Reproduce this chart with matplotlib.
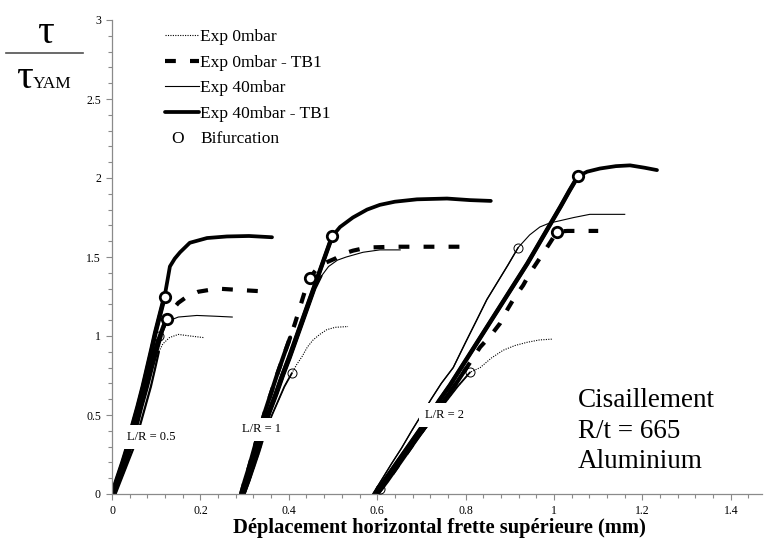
import matplotlib
matplotlib.use("Agg")
import matplotlib.pyplot as plt
from matplotlib.lines import Line2D
from matplotlib.ticker import MultipleLocator

plt.rcParams["font.family"] = ["Liberation Serif", "DejaVu Serif"]

# ---------------- data: tau / tau_YAM versus displacement (mm) ----------------
# L/R = 0.5
g1_40tb1_x = [0.000, 0.012, 0.024, 0.035, 0.046, 0.058, 0.070, 0.080, 0.090, 0.098, 0.108,
              0.119, 0.126, 0.131, 0.142, 0.154, 0.176, 0.215, 0.260, 0.310, 0.362]
g1_40tb1_y = [0.00, 0.10, 0.20, 0.30, 0.43, 0.55, 0.68, 0.80, 0.92, 1.02, 1.13,
              1.25, 1.36, 1.44, 1.49, 1.53, 1.59, 1.62, 1.63, 1.633, 1.625]
g1_0tb1_x = [0.004, 0.016, 0.030, 0.041, 0.052, 0.064, 0.076, 0.087, 0.097, 0.106, 0.115,
             0.124, 0.135, 0.150, 0.170, 0.195, 0.238, 0.296, 0.357]
g1_0tb1_y = [0.00, 0.10, 0.20, 0.30, 0.42, 0.55, 0.68, 0.80, 0.90, 0.98, 1.05,
             1.11, 1.16, 1.21, 1.25, 1.28, 1.30, 1.29, 1.28]
g1_40_x = [0.006, 0.018, 0.032, 0.044, 0.056, 0.068, 0.080, 0.092, 0.102, 0.112, 0.122,
           0.132, 0.150, 0.192, 0.235, 0.272]
g1_40_y = [0.00, 0.10, 0.20, 0.30, 0.42, 0.55, 0.67, 0.80, 0.90, 1.00, 1.07,
           1.10, 1.12, 1.13, 1.125, 1.12]
g1_0_x = [0.008, 0.022, 0.036, 0.050, 0.062, 0.075, 0.088, 0.098, 0.106, 0.115, 0.130,
          0.150, 0.177, 0.207]
g1_0_y = [0.00, 0.10, 0.20, 0.30, 0.42, 0.55, 0.68, 0.80, 0.90, 0.95, 0.99,
          1.01, 1.00, 0.99]

# L/R = 1
g2_40tb1_x = [0.296, 0.306, 0.316, 0.327, 0.341, 0.355, 0.370, 0.385, 0.400, 0.414, 0.428,
              0.442, 0.456, 0.470, 0.484, 0.498, 0.516, 0.545, 0.577, 0.606, 0.640, 0.690,
              0.758, 0.810, 0.857]
g2_40tb1_y = [0.00, 0.08, 0.17, 0.27, 0.40, 0.52, 0.63, 0.75, 0.86, 0.97, 1.08,
              1.19, 1.30, 1.41, 1.52, 1.63, 1.69, 1.75, 1.80, 1.83, 1.85, 1.865,
              1.87, 1.86, 1.855]
g2_0tb1_x = [0.292, 0.300, 0.310, 0.320, 0.333, 0.346, 0.360, 0.374, 0.389, 0.403, 0.414,
             0.425, 0.436, 0.448, 0.462, 0.480, 0.505, 0.523, 0.545, 0.577, 0.640, 0.720, 0.800]
g2_0tb1_y = [0.00, 0.08, 0.17, 0.27, 0.40, 0.52, 0.64, 0.76, 0.88, 0.99, 1.08,
             1.18, 1.28, 1.37, 1.42, 1.46, 1.49, 1.52, 1.54, 1.56, 1.565, 1.565, 1.565]
g2_40_x = [0.300, 0.310, 0.320, 0.331, 0.345, 0.359, 0.374, 0.389, 0.404, 0.418, 0.432,
           0.446, 0.460, 0.474, 0.490, 0.510, 0.530, 0.568, 0.606, 0.652]
g2_40_y = [0.00, 0.08, 0.17, 0.27, 0.40, 0.52, 0.63, 0.75, 0.86, 0.97, 1.08,
           1.19, 1.30, 1.38, 1.44, 1.48, 1.50, 1.53, 1.545, 1.545]
g2_0_x = [0.300, 0.311, 0.322, 0.334, 0.348, 0.362, 0.376, 0.390, 0.407, 0.418, 0.430,
          0.442, 0.455, 0.470, 0.486, 0.505, 0.534]
g2_0_y = [0.00, 0.08, 0.17, 0.27, 0.40, 0.50, 0.59, 0.68, 0.765, 0.82, 0.87,
          0.93, 0.975, 1.01, 1.04, 1.055, 1.06]

# L/R = 2
g3_40tb1_x = [0.595, 0.615, 0.640, 0.665, 0.690, 0.715, 0.740, 0.765, 0.790, 0.815, 0.840,
              0.865, 0.890, 0.915, 0.940, 0.965, 0.990, 1.015, 1.035, 1.054, 1.075, 1.104,
              1.140, 1.172, 1.205, 1.233]
g3_40tb1_y = [0.00, 0.08, 0.18, 0.28, 0.38, 0.48, 0.59, 0.69, 0.80, 0.91, 1.02,
              1.13, 1.24, 1.35, 1.46, 1.58, 1.70, 1.82, 1.92, 2.01, 2.04, 2.06,
              2.075, 2.08, 2.065, 2.05]
g3_0tb1_x = [0.600, 0.622, 0.647, 0.672, 0.697, 0.722, 0.748, 0.774, 0.800, 0.833, 0.856,
             0.878, 0.895, 0.912, 0.930, 0.946, 0.965, 0.984, 1.007, 1.030, 1.060, 1.088, 1.100]
g3_0tb1_y = [0.00, 0.08, 0.18, 0.28, 0.38, 0.48, 0.58, 0.68, 0.79, 0.93, 1.00,
             1.08, 1.17, 1.25, 1.32, 1.40, 1.48, 1.56, 1.66, 1.665, 1.665, 1.665, 1.665]
g3_40_x = [0.590, 0.610, 0.632, 0.655, 0.678, 0.700, 0.722, 0.745, 0.772, 0.800, 0.825,
           0.848, 0.872, 0.896, 0.919, 0.945, 0.968, 0.990, 1.014, 1.045, 1.081, 1.120, 1.160]
g3_40_y = [0.00, 0.09, 0.19, 0.29, 0.40, 0.50, 0.60, 0.70, 0.80, 0.96, 1.10,
           1.23, 1.34, 1.45, 1.56, 1.64, 1.69, 1.715, 1.73, 1.75, 1.77, 1.77, 1.77]
g3_0_x = [0.592, 0.614, 0.637, 0.660, 0.684, 0.708, 0.732, 0.757, 0.782, 0.810, 0.833,
          0.858, 0.885, 0.912, 0.939, 0.967, 0.995]
g3_0_y = [0.00, 0.07, 0.15, 0.23, 0.32, 0.41, 0.50, 0.59, 0.68, 0.77, 0.80,
          0.86, 0.91, 0.94, 0.96, 0.975, 0.98]

# bifurcation points (TB1 tests / plain tests)
bif_tb1_x = [0.119, 0.124, 0.498, 0.448, 1.054, 1.007]
bif_tb1_y = [1.25, 1.11, 1.63, 1.37, 2.01, 1.66]
bif_plain_x = [0.107, 0.407, 0.919, 0.810, 0.607]
bif_plain_y = [1.00, 0.765, 1.56, 0.77, 0.03]

legend_labels = ["Exp 0mbar", "Exp 0mbar - TB1", "Exp 40mbar", "Exp 40mbar - TB1"]
group_labels = ["L/R = 0.5", "L/R = 1", "L/R = 2"]
group_label_x = [0.088, 0.339, 0.752]
group_label_y = [0.36, 0.41, 0.50]

x_ticks = [0, 0.2, 0.4, 0.6, 0.8, 1.0, 1.2, 1.4]
x_tick_labels = ["0", "0.2", "0.4", "0.6", "0.8", "1", "1.2", "1.4"]
y_ticks = [0, 0.5, 1.0, 1.5, 2.0, 2.5, 3.0]
y_tick_labels = ["0", "0.5", "1", "1.5", "2", "2.5", "3"]

# ---------------- styles ----------------
style_0 = dict(color="black", lw=0.8, ls=(0, (1, 1.2)))
style_0tb1 = dict(color="black", lw=3.0, ls=(0, (2.6, 3.4)), dash_capstyle="butt")
style_40 = dict(color="black", lw=0.8, ls="-")
style_40tb1 = dict(color="black", lw=2.7, ls="-", solid_capstyle="round")

W, H = 765, 545
fig = plt.figure(figsize=(W / 100, H / 100), dpi=100)
ax = fig.add_axes([112 / W, 51 / H, 650 / W, 474 / H])


def fx(px):
    return px / W


def fy(py):
    return 1 - py / H


# (x, y, style, width of the dense loading branch, points in the loading branch)
series = [
    (g1_0_x, g1_0_y, style_0, 1.6, 9), (g2_0_x, g2_0_y, style_0, 1.3, 9),
    (g3_0_x, g3_0_y, style_0, 1.3, 10),
    (g1_40_x, g1_40_y, style_40, 1.8, 10), (g2_40_x, g2_40_y, style_40, 1.6, 14),
    (g3_40_x, g3_40_y, style_40, 1.0, 15),
    (g1_0tb1_x, g1_0tb1_y, style_0tb1, 3.2, 12), (g2_0tb1_x, g2_0tb1_y, style_0tb1, 3.0, 10),
    (g3_0tb1_x, g3_0tb1_y, style_0tb1, 3.0, 9),
    (g1_40tb1_x, g1_40tb1_y, style_40tb1, 3.4, 12), (g2_40tb1_x, g2_40tb1_y, style_40tb1, 3.2, 16),
    (g3_40tb1_x, g3_40tb1_y, style_40tb1, 3.2, 20),
]
for xs, ys, st, wload, nload in series:
    ax.plot(xs, ys, zorder=2, **st)
    # dense experimental loading branch reads as a solid band
    ax.plot(xs[:nload], ys[:nload], color="black", lw=wload, ls="-",
            solid_capstyle="round", zorder=2)

ax.plot(bif_tb1_x, bif_tb1_y, ls="none", marker="o", ms=7.5, mfc="white", mec="black",
        mew=2.0, zorder=4)
ax.plot(bif_plain_x, bif_plain_y, ls="none", marker="o", ms=6.5, mfc="none", mec="black",
        mew=0.7, zorder=4)

for lab, lx, ly in zip(group_labels, group_label_x, group_label_y):
    ax.text(lx, ly, lab, fontsize=9, ha="center", va="center", zorder=6,
            bbox=dict(boxstyle="square,pad=0.45", fc="white", ec="none"))

ax.set_xlim(0, 650 / 442)
ax.set_ylim(0, 3)
ax.set_xticks(x_ticks)
ax.set_xticklabels(x_tick_labels)
ax.set_yticks(y_ticks)
ax.set_yticklabels(y_tick_labels)
ax.xaxis.set_minor_locator(MultipleLocator(0.04))
ax.yaxis.set_minor_locator(MultipleLocator(0.1))
for s in ("top", "right"):
    ax.spines[s].set_visible(False)
for s in ("left", "bottom"):
    ax.spines[s].set_color("#8a8a8a")
    ax.spines[s].set_linewidth(0.9)
ax.tick_params(which="both", direction="out", color="#8a8a8a", width=0.8)
ax.tick_params(which="major", length=4, labelsize=8.5, pad=4)
ax.tick_params(which="minor", length=3)

ax.set_xlabel("Déplacement horizontal frette supérieure (mm)", fontsize=14.8,
              fontweight="bold")
ax.xaxis.set_label_coords(0.503, -(518 - 494) / 474)

# y-axis label drawn as a fraction
fig.text(fx(45), fy(43), "τ", fontsize=30, ha="center", va="baseline")
fig.add_artist(Line2D([fx(6), fx(83)], [fy(53), fy(53)], color="#505050", lw=1.2))
fig.text(fx(33), fy(88), "τ", fontsize=30, ha="right", va="baseline")
fig.text(fx(33), fy(88), "YAM", fontsize=12.5, ha="left", va="baseline")

# legend
rows = [35, 61, 86, 112]
for r, lab, st in zip(rows, legend_labels, [style_0, style_0tb1, style_40, style_40tb1]):
    fig.add_artist(Line2D([fx(165), fx(199)], [fy(r), fy(r)], **st))
    fig.text(fx(200), fy(r + 6), lab, fontsize=12.5, ha="left", va="baseline")
fig.text(fx(178), fy(143), "O", fontsize=12.5, ha="center", va="baseline")
fig.text(fx(200), fy(143), "Bifurcation", fontsize=12.5, ha="left", va="baseline")

# test description
for txt, bl in zip(["Cisaillement", "R/t = 665", "Aluminium"], [407, 438, 468]):
    fig.text(fx(578), fy(bl), txt, fontsize=19.5, ha="left", va="baseline")

fig.savefig("out.png", dpi=100)
